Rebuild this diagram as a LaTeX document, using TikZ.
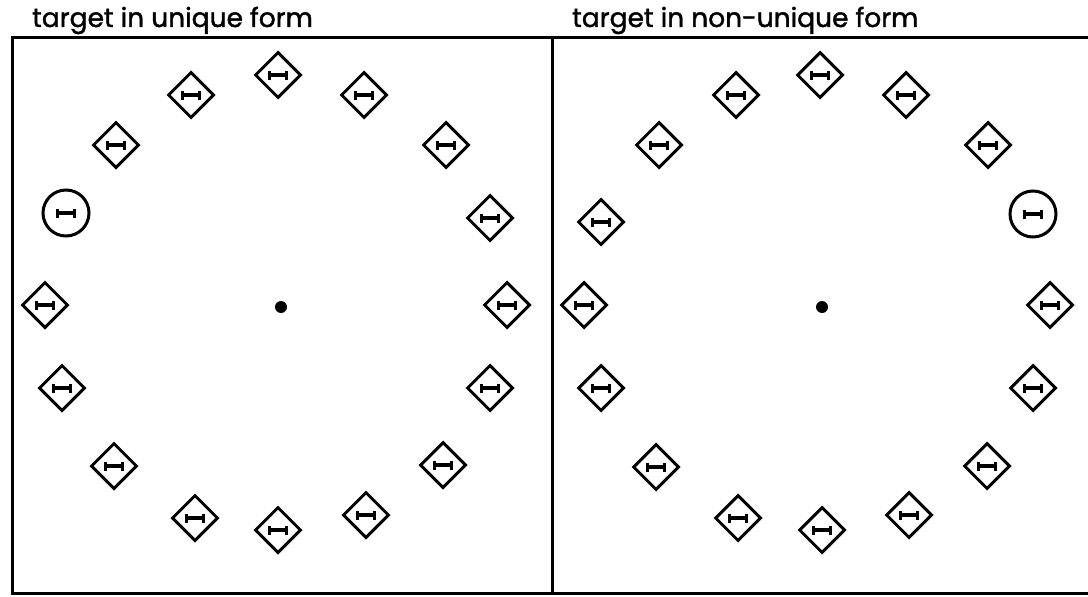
\documentclass[tikz,border=0pt]{standalone}
\usepackage{fontspec}
\newfontfamily\ttlfont[FakeBold=1.5]{Poppins}
\usetikzlibrary{shapes.geometric}
\newcommand\ibeam{%
  \draw[line width=4.5pt] ([xshift=-8.5pt]path picture bounding box.center) -- ([xshift=8.5pt]path picture bounding box.center);
  \draw[line width=2.8pt] ([xshift=-8.5pt,yshift=-4.5pt]path picture bounding box.center) -- ([xshift=-8.5pt,yshift=4.5pt]path picture bounding box.center);
  \draw[line width=2.8pt] ([xshift=8.5pt,yshift=-4.5pt]path picture bounding box.center) -- ([xshift=8.5pt,yshift=4.5pt]path picture bounding box.center);
}
\tikzset{
  tgd/.style={draw, line width=3pt, shape=diamond, aspect=1, minimum width=46pt, minimum height=46pt, inner sep=0pt, path picture={\ibeam}},
  tgc/.style={draw, line width=3pt, circle, minimum size=46pt, inner sep=0pt, path picture={\ibeam}},
  frame/.style={line width=3pt},
  ttl/.style={anchor=base west, inner sep=0pt, font=\ttlfont\fontsize{26.5}{30}\selectfont},
  ctr/.style={circle, fill, minimum size=12pt, inner sep=0pt},
}
\begin{document}
\begin{tikzpicture}[x=1pt,y=-1pt]
\useasboundingbox (0,0) rectangle (1088,597);
% frame
\coordinate (tl) at (12,37);
\coordinate (bl) at (12,593);
\coordinate (tr) at (1088,37);
\coordinate (br) at (1088,593);
\coordinate (mt) at (552,37);
\coordinate (mb) at (552,593);
\draw[frame] (tr) -- (tl) -- (bl) -- (br);
\draw[frame] (mt) -- (mb);
% titles
\node[ttl] (t1) at (32,27) {target in unique form};
\node[ttl] (t2) at (572,27) {target in non-unique form};
% left panel
\node[ctr] (c1) at (281,307) {};
\node[tgd] (a1) at (278,75) {};
\node[tgd] (a2) at (191,95) {};
\node[tgd] (a3) at (364,95) {};
\node[tgd] (a4) at (116,145) {};
\node[tgd] (a5) at (446,145) {};
\node[tgc] (a6) at (66,213) {};
\node[tgd] (a7) at (490,218) {};
\node[tgd] (a8) at (45,305) {};
\node[tgd] (a9) at (507,305) {};
\node[tgd] (a10) at (62,388) {};
\node[tgd] (a11) at (490,388) {};
\node[tgd] (a12) at (114,466) {};
\node[tgd] (a13) at (443,465) {};
\node[tgd] (a14) at (195,518) {};
\node[tgd] (a15) at (366,515) {};
\node[tgd] (a16) at (278,530) {};
% right panel
\node[ctr] (c2) at (822,307) {};
\node[tgd] (b1) at (820,75) {};
\node[tgd] (b2) at (736,95) {};
\node[tgd] (b3) at (906,95) {};
\node[tgd] (b4) at (659,145) {};
\node[tgd] (b5) at (988,145) {};
\node[tgd] (b6) at (601,222) {};
\node[tgc] (b7) at (1033,214) {};
\node[tgd] (b8) at (584,305) {};
\node[tgd] (b9) at (1050,305) {};
\node[tgd] (b10) at (601,388) {};
\node[tgd] (b11) at (1033,388) {};
\node[tgd] (b12) at (656,467) {};
\node[tgd] (b13) at (987,466) {};
\node[tgd] (b14) at (738,518) {};
\node[tgd] (b15) at (909,515) {};
\node[tgd] (b16) at (822,530) {};
\end{tikzpicture}
\end{document}
